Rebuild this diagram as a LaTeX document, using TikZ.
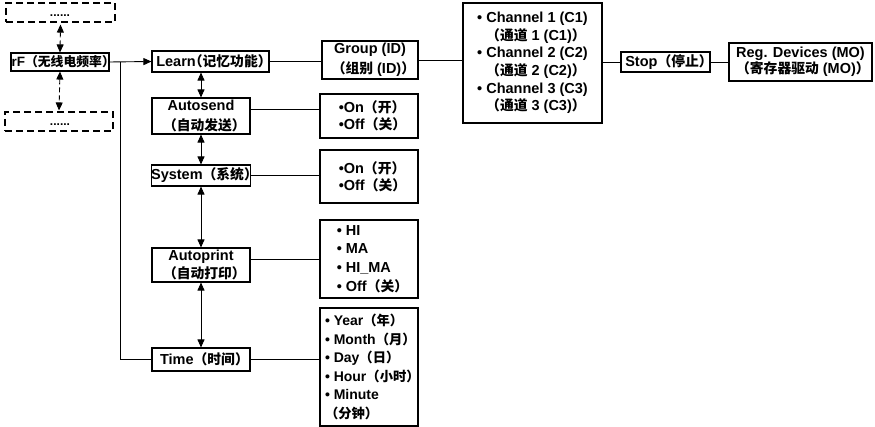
\documentclass[tikz,border=0pt]{standalone}
\usepackage{fontspec}
\setmainfont{Liberation Sans}
\newfontfamily\cjk{Noto Sans CJK SC}[Scale=0.95]
\newfontfamily\cjkh{Noto Sans CJK SC}[Scale=0.95, RawFeature=+halt]
\newcommand\zh[1]{{\cjk #1}}
\newcommand\rp{{\cjkh ）}}
\newcommand\lp{{\cjk （}}
\usetikzlibrary{arrows.meta}
\begin{document}
\begin{tikzpicture}[x=1pt,y=-1pt,
  box/.style={draw, line width=1.1pt, inner sep=0pt, align=center,
    font=\fontsize{14.5}{17.5}\selectfont\bfseries},
  dbox/.style={draw, dash pattern=on 7pt off 4pt, line width=1.1pt, inner sep=0pt},
  conn/.style={line width=0.9pt},
  tip/.style={-{Triangle[length=8pt,width=7pt]}},
  dtip/.style={{Triangle[length=8pt,width=7pt]}-{Triangle[length=8pt,width=7pt]}}]
\useasboundingbox (0,0) rectangle (875,427);

% left column
\node[dbox, minimum width=109pt, minimum height=19pt] (dtop) at (60.5,12.5) {};
\node[font=\bfseries\fontsize{12}{14}\selectfont, inner sep=0pt] (dotsA) at (60,16) {......};
\node[dbox, minimum width=108pt, minimum height=19pt] (dbot) at (59,121.5) {};
\node[font=\bfseries\fontsize{12}{14}\selectfont, inner sep=0pt] (dotsB) at (60,125) {......};

\node[box, minimum width=98pt, minimum height=18pt, font=\fontsize{13.5}{15}\selectfont\bfseries] (rf) at (60,62) {rF\lp\zh{无线电频率}\rp};

\node[box, minimum width=117pt, minimum height=21pt] (learn) at (210.5,61.5) {Learn{\cjkh （}\zh{记忆功能}\rp};
\node[box, minimum width=98pt, minimum height=36pt, font=\fontsize{14.5}{20}\selectfont\bfseries] (autosend) at (201,116) {Autosend\\\lp\zh{自动发送}\rp};
\node[box, minimum width=98pt, minimum height=21pt] (system) at (201,175.5) {System\lp\zh{系统}\rp};
\node[box, minimum width=98pt, minimum height=34pt, font=\fontsize{14.5}{18}\selectfont\bfseries] (autoprint) at (201,265) {Autoprint\\\lp\zh{自动打印}\rp};
\node[box, minimum width=98pt, minimum height=23pt] (time) at (201,359.5) {Time\lp\zh{时间}\rp};

% right column
\node[box, minimum width=96pt, minimum height=38pt, font=\fontsize{14.5}{20}\selectfont\bfseries] (group) at (370,60) {Group (ID)\\\lp\zh{组别} (ID)\rp};
\node[box, minimum width=98pt, minimum height=44pt, align=left, font=\fontsize{14.5}{17}\selectfont\bfseries] (onoffA) at (369,116) {•On\lp\zh{开}\rp\\•Off\lp\zh{关}\rp};
\node[box, minimum width=98pt, minimum height=53pt, align=left, font=\fontsize{14.5}{17}\selectfont\bfseries] (onoffB) at (369,176.5) {•On\lp\zh{开}\rp\\•Off\lp\zh{关}\rp};
\node[box, minimum width=98pt, minimum height=78pt, align=left, font=\fontsize{14.5}{18.7}\selectfont\bfseries] (hi) at (369,259) {• HI\\• MA\\• HI\_MA\\• Off\lp\zh{关}\rp};
\node[box, minimum width=98pt, minimum height=118pt, align=left, font=\fontsize{14}{18.6}\selectfont\bfseries] (year) at (369,367) {• Year\lp\zh{年}\rp\\• Month\lp\zh{月}\rp\\• Day\lp\zh{日}\rp\\• Hour\lp\zh{小时}\rp\\• Minute\\\lp\zh{分钟}\rp};

\node[box, minimum width=139pt, minimum height=120pt, font=\fontsize{14.5}{17.6}\selectfont\bfseries] (channel) at (532.5,63) {• Channel 1 (C1)\\\lp\zh{通道} 1 (C1)\rp\\• Channel 2 (C2)\\\lp\zh{通道} 2 (C2)\rp\\• Channel 3 (C3)\\\lp\zh{通道} 3 (C3)\rp};
\node[box, minimum width=89pt, minimum height=20pt] (stop) at (665.5,62) {Stop\lp\zh{停止}\rp};
\node[box, minimum width=143pt, minimum height=38pt, align=left, font=\fontsize{14.5}{16}\selectfont\bfseries] (reg) at (800.5,62) {Reg. Devices (MO)\\\lp\zh{寄存器驱动} (MO)\rp};

% connectors
\coordinate (j) at (120,62);
\draw[conn, tip] (rf.east) -- (learn.west);
\draw[conn] (j) |- (time.west);
\draw[conn, dtip, dash pattern=on 5pt off 3pt] ([yshift=-2pt]dtop.south) -- (rf.north);
\draw[conn, dtip, dash pattern=on 5pt off 3pt] (rf.south) -- ([yshift=1pt]dbot.north);

\draw[conn, dtip] (learn.south -| autosend) -- (autosend.north);
\draw[conn, dtip] (autosend.south) -- (system.north);
\draw[conn, dtip] (system.south) -- (autoprint.north);
\draw[conn, dtip] (autoprint.south) -- (time.north);

\draw[conn] (learn.east) -- (learn.east -| group.west);
\draw[conn] ([yshift=7pt]autosend.east) -- ([yshift=7pt]autosend.east -| onoffA.west);
\draw[conn] (system.east) -- (system.east -| onoffB.west);
\draw[conn] ([yshift=6pt]autoprint.east) -- ([yshift=6pt]autoprint.east -| hi.west);
\draw[conn] (time.east) -- (time.east -| year.west);

\draw[conn] (group.east) -- (group.east -| channel.west);
\draw[conn] (channel.east |- stop.west) -- (stop.west);
\draw[conn] (stop.east) -- (stop.east -| reg.west);
\end{tikzpicture}
\end{document}
